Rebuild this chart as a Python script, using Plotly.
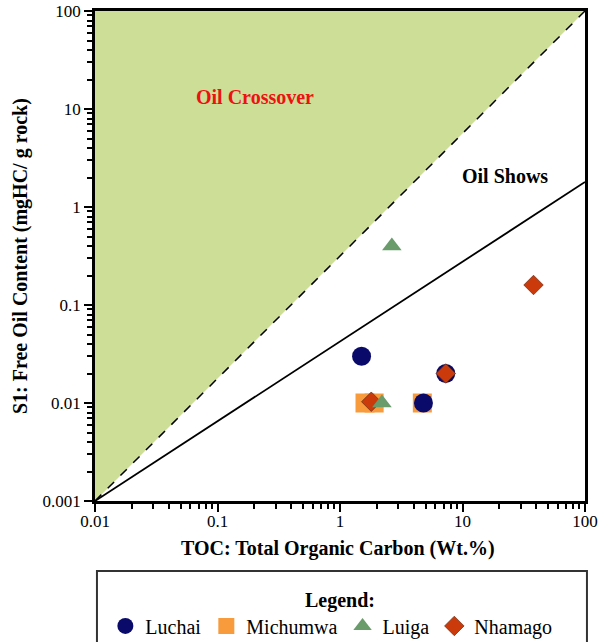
import plotly.graph_objects as go

# ---- data ----
luchai_toc = [1.5, 4.8, 7.3]
luchai_s1 = [0.03, 0.01, 0.02]
michumwa_toc = [1.6, 1.9, 4.7]
michumwa_s1 = [0.01, 0.01, 0.01]
luiga_toc = [2.65, 2.2]
luiga_s1 = [0.4, 0.01]
nhamago_toc = [38, 7.3, 1.8]
nhamago_s1 = [0.16, 0.02, 0.0103]

crossover_x = [0.01, 0.01, 100, 0.01]
crossover_y = [0.001, 100, 100, 0.001]
shows_x = [0.01, 100]
shows_y = [0.001, 1.8]

x_ticks = [0.01, 0.1, 1, 10, 100]
x_tick_text = ["0.01", "0.1", "1", "10", "100"]
y_ticks = [0.001, 0.01, 0.1, 1, 10, 100]
y_tick_text = ["0.001", "0.01", "0.1", "1", "10", "100"]

FONT = "Liberation Serif, Times New Roman, serif"

fig = go.Figure()

fig.add_trace(go.Scatter(x=crossover_x, y=crossover_y, mode="lines", fill="toself",
                         fillcolor="rgb(205,222,150)", line=dict(width=0),
                         showlegend=False, hoverinfo="skip"))
fig.add_trace(go.Scatter(x=[crossover_x[0], crossover_x[2]], y=[crossover_y[0], crossover_y[2]],
                         mode="lines", line=dict(color="black", width=1.5, dash="dash"),
                         showlegend=False, hoverinfo="skip"))
fig.add_trace(go.Scatter(x=shows_x, y=shows_y, mode="lines",
                         line=dict(color="black", width=1.8),
                         showlegend=False, hoverinfo="skip"))

fig.add_trace(go.Scatter(x=michumwa_toc, y=michumwa_s1, mode="markers", name="Michumwa",
                         legendrank=2,
                         marker=dict(symbol="square", size=19, color="#F89B3C")))
fig.add_trace(go.Scatter(x=luchai_toc, y=luchai_s1, mode="markers", name="Luchai",
                         legendrank=1,
                         marker=dict(symbol="circle", size=19, color="#0A0A6B")))
fig.add_trace(go.Scatter(x=nhamago_toc, y=nhamago_s1, mode="markers", name="Nhamago",
                         legendrank=4,
                         marker=dict(symbol="diamond", size=15, color="#CB3A0A",
                                     line=dict(color="#6B2A10", width=0.7))))
fig.add_trace(go.Scatter(x=luiga_toc, y=luiga_s1, mode="markers", name="Luiga",
                         legendrank=3,
                         marker=dict(symbol="triangle-up", size=17, color="#699B6B")))

axis_common = dict(type="log", showgrid=False, zeroline=False, showline=True,
                   linecolor="black", linewidth=2.5, mirror=True, automargin=False,
                   ticks="outside", ticklen=8, tickwidth=2, tickcolor="black",
                   tickfont=dict(family=FONT, size=17, color="black"),
                   minor=dict(ticks="outside", ticklen=5, tickwidth=1.5,
                              tickcolor="black", dtick="D1", showgrid=False))

fig.update_xaxes(range=[-2, 2], tickvals=x_ticks, ticktext=x_tick_text,
                 ticklabelstandoff=-5, **axis_common)
fig.update_yaxes(range=[-3, 2], tickvals=y_ticks, ticktext=y_tick_text,
                 ticklabelstandoff=0, **axis_common)

fig.update_layout(
    width=608, height=642,
    margin=dict(l=95, r=23, t=11, b=141, autoexpand=False),
    plot_bgcolor="white", paper_bgcolor="white",
    font=dict(family=FONT, color="black"),
    showlegend=True,
    legend=dict(orientation="h", xref="container", yref="container",
                x=0.545, xanchor="center", y=0.025, yanchor="middle",
                font=dict(family=FONT, size=20, color="black"),
                bgcolor="rgba(0,0,0,0)", borderwidth=0,
                itemclick=False, itemdoubleclick=False),
    shapes=[dict(type="rect", xref="paper", yref="paper",
                 x0=0.004, x1=1.004, y0=-0.31, y1=-0.143,
                 line=dict(color="#333333", width=2), fillcolor="rgba(0,0,0,0)")],
    annotations=[
        dict(text="<b>Oil Crossover</b>", xref="paper", yref="paper", x=0.3265, y=0.824,
             xanchor="center", yanchor="middle",
             showarrow=False, font=dict(family=FONT, size=20, color="#EE1111")),
        dict(text="<b>Oil Shows</b>", xref="paper", yref="paper", x=0.837, y=0.663,
             xanchor="center", yanchor="middle",
             showarrow=False, font=dict(family=FONT, size=20, color="black")),
        dict(text="<b>S1: Free Oil Content (mgHC/ g rock)</b>", xref="paper", yref="paper",
             x=-0.153, y=0.5, textangle=-90, xanchor="center", yanchor="middle",
             showarrow=False, font=dict(family=FONT, size=20, color="black")),
        dict(text="<b>TOC: Total Organic Carbon (Wt.%)</b>", xref="paper", yref="paper",
             x=0.495, y=-0.096, xanchor="center", yanchor="middle", showarrow=False,
             font=dict(family=FONT, size=20, color="black")),
        dict(text="<b>Legend:</b>", xref="paper", yref="paper", x=0.5, y=-0.204,
             xanchor="center", yanchor="middle",
             showarrow=False, font=dict(family=FONT, size=20, color="black")),
    ],
)

fig.write_html("out.html", config={"displayModeBar": False},
               post_script="document.body.style.margin='0px';document.body.style.overflow='hidden';")
